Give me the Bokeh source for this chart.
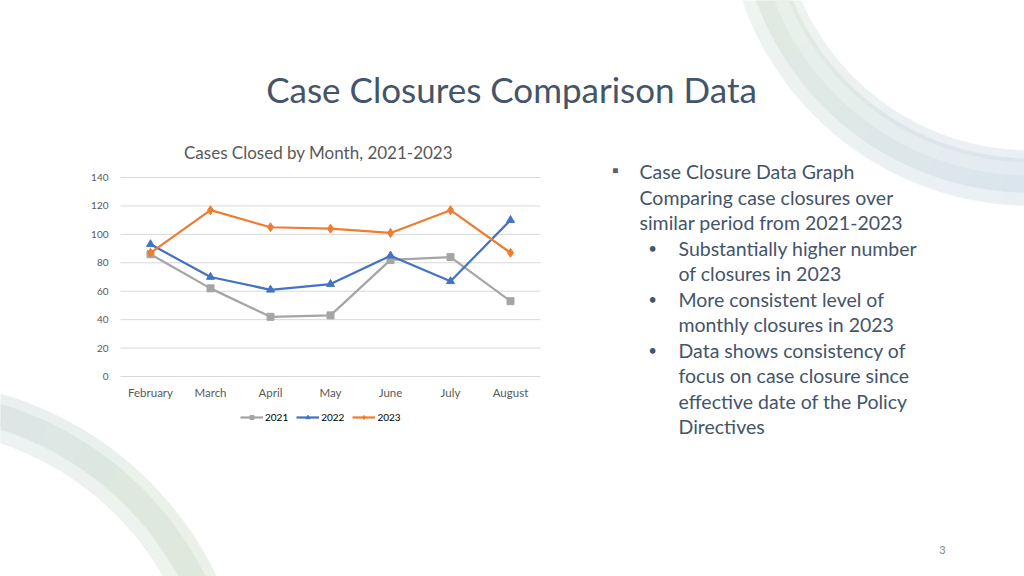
import numpy as np
from bokeh.plotting import figure
from bokeh.models import (Range1d, Label, Legend, LegendItem, ColumnDataSource)
from bokeh.core.properties import value
from bokeh.embed import file_html
from bokeh.resources import INLINE

# ---------------- data ----------------
months = ["February", "March", "April", "May", "June", "July", "August"]
cases_2021 = [86, 62, 42, 43, 82, 84, 53]
cases_2022 = [93, 70, 61, 65, 85, 67, 110]
cases_2023 = [87, 117, 105, 104, 101, 117, 87]
series_names = ["2021", "2022", "2023"]
y_ticks = [0, 20, 40, 60, 80, 100, 120, 140]
y_max = 140

slide_title = "Case Closures Comparison Data"
chart_title = "Cases Closed by Month, 2021-2023"
bullet_lines = [
    (1, True, "Case Closure Data Graph"),
    (1, False, "Comparing case closures over"),
    (1, False, "similar period from 2021-2023"),
    (2, True, "Substantially higher number"),
    (2, False, "of closures in 2023"),
    (2, True, "More consistent level of"),
    (2, False, "monthly closures in 2023"),
    (2, True, "Data shows consistency of"),
    (2, False, "focus on case closure since"),
    (2, False, "effective date of the Policy"),
    (2, False, "Directives"),
]
page_number = "3"

# ---------------- layout (page pixels) ----------------
W, H = 1024, 576
FL, FR, FT, FB = 120, 540, 177, 376   # chart plot area

FONT = "Lato"
TEXT_DARK = "#44546A"
CHART_TXT = "#595959"
colors = ["#A5A5A5", "#4472C4", "#ED7D31"]
markers = ["square", "triangle", "diamond"]
msizes = [7, 8, 9]

idx = list(range(len(months)))
n = len(months)

p = figure(width=W, height=H, x_range=Range1d(0, W), y_range=Range1d(H, 0),
           output_backend="svg", toolbar_location=None, min_border=0)
p.outline_line_color = None
p.axis.visible = False
p.grid.visible = False
p.background_fill_color = "white"
p.border_fill_color = "white"

# chart ranges: categories -0.5..n-0.5 over FL..FR, values 0..y_max over FB..FT
ux = n / (FR - FL)
uy = y_max / (FB - FT)
p.extra_x_ranges = {"cx": Range1d(-0.5 - FL * ux, -0.5 + (W - FL) * ux)}
p.extra_y_ranges = {"cy": Range1d(0 - (H - FB) * uy, y_max + FT * uy)}

# ---------------- decorations ----------------
def lerp_color(c1, c2, t):
    a = [int(c1[i:i + 2], 16) for i in (1, 3, 5)]
    b = [int(c2[i:i + 2], 16) for i in (1, 3, 5)]
    return "#%02x%02x%02x" % tuple(int(round(a[k] + (b[k] - a[k]) * t)) for k in range(3))

def ring(cx, cy, r_in, r_out, a0, a1, c0, c1, alpha, nseg=16):
    edges = np.linspace(np.radians(a0), np.radians(a1), nseg + 1)
    xs, ys, cols = [], [], []
    for i in range(nseg):
        t = np.linspace(edges[i], edges[i + 1], 10)
        xs.append(list(cx + r_out * np.cos(t)) + list(cx + r_in * np.cos(t[::-1])))
        ys.append(list(cy + r_out * np.sin(t)) + list(cy + r_in * np.sin(t[::-1])))
        cols.append(lerp_color(c0, c1, i / max(nseg - 1, 1)))
    p.patches(xs, ys, fill_color=cols, fill_alpha=alpha, line_color=cols,
              line_alpha=alpha * 0.5, line_width=0.5)

# top-right ring (angles: 90 = down, 180 = left in page coords)
ring(1030, -100, 250, 305, 200, 80, "#ebf2e5", "#dfe8f1", 0.7)
ring(1030, -100, 258, 292, 200, 80, "#dde9d2", "#d2deeb", 0.65)
ring(1030, -100, 262, 275, 200, 80, "#ecf3e6", "#e6edf4", 0.8)
# bottom-left ring
ring(-95, 725, 298, 345, 250, 370, "#e1e8f1", "#e2edd7", 0.7)
ring(-95, 725, 310, 335, 250, 370, "#d4dee9", "#d9e7cb", 0.65)
ring(-95, 725, 299, 311, 250, 370, "#edf2f7", "#eff5e9", 0.8)

# ---------------- chart ----------------
p.segment(x0=-0.5, x1=n - 0.5, y0=y_ticks, y1=y_ticks, x_range_name="cx", y_range_name="cy",
          line_color="#D9D9D9", line_width=1)
p.text(x=-0.5, y=y_ticks, text=[str(t) for t in y_ticks], x_range_name="cx", y_range_name="cy",
       x_offset=-12, text_align="right", text_baseline="middle",
       text_font=value(FONT), text_font_size="10px", text_color=CHART_TXT)
p.text(x=idx, y=0, text=months, x_range_name="cx", y_range_name="cy",
       y_offset=16, text_align="center", text_baseline="middle",
       text_font=value(FONT), text_font_size="11.5px", text_color=CHART_TXT)

items = []
for name, vals, col, mk, ms in zip(series_names, [cases_2021, cases_2022, cases_2023],
                                   colors, markers, msizes):
    src = ColumnDataSource(dict(x=idx, y=vals))
    lr = p.line("x", "y", source=src, line_color=col, line_width=2.25,
                x_range_name="cx", y_range_name="cy")
    sr = p.scatter("x", "y", source=src, marker=mk, size=ms, fill_color=col, line_color=col,
                   x_range_name="cx", y_range_name="cy")
    items.append(LegendItem(label=name, renderers=[lr, sr]))

legend = Legend(items=items, orientation="horizontal", location=(240, H - 423),
                border_line_color=None, background_fill_alpha=0,
                label_text_font=FONT, label_text_font_size="10px",
                label_text_color="#000000", glyph_width=23, glyph_height=10,
                label_standoff=2, spacing=8, padding=0, margin=0,
                label_height=12)
p.add_layout(legend, "center")

# ---------------- texts ----------------
def label(x, y, text, size, color, align="left"):
    p.add_layout(Label(x=x, y=y, text=text, text_font=FONT, text_font_size=size,
                       text_color=color, text_align=align, text_baseline="middle"))

label(511, 88, slide_title, "35px", TEXT_DARK, "center")
label(318, 152, chart_title, "17px", CHART_TXT, "center")

y = 171
for level, bullet, text in bullet_lines:
    if level == 1:
        if bullet:
            label(615, y - 2, "\u25aa", "18px", "#5a6070", "center")
        label(639, y, text, "19.5px", TEXT_DARK)
    else:
        if bullet:
            label(652, y, "\u2022", "15px", TEXT_DARK, "center")
        label(678, y, text, "19.5px", TEXT_DARK)
    y += 25.5

label(942, 549, page_number, "11px", "#898989", "center")

open("out.html", "w").write(file_html(p, INLINE))
